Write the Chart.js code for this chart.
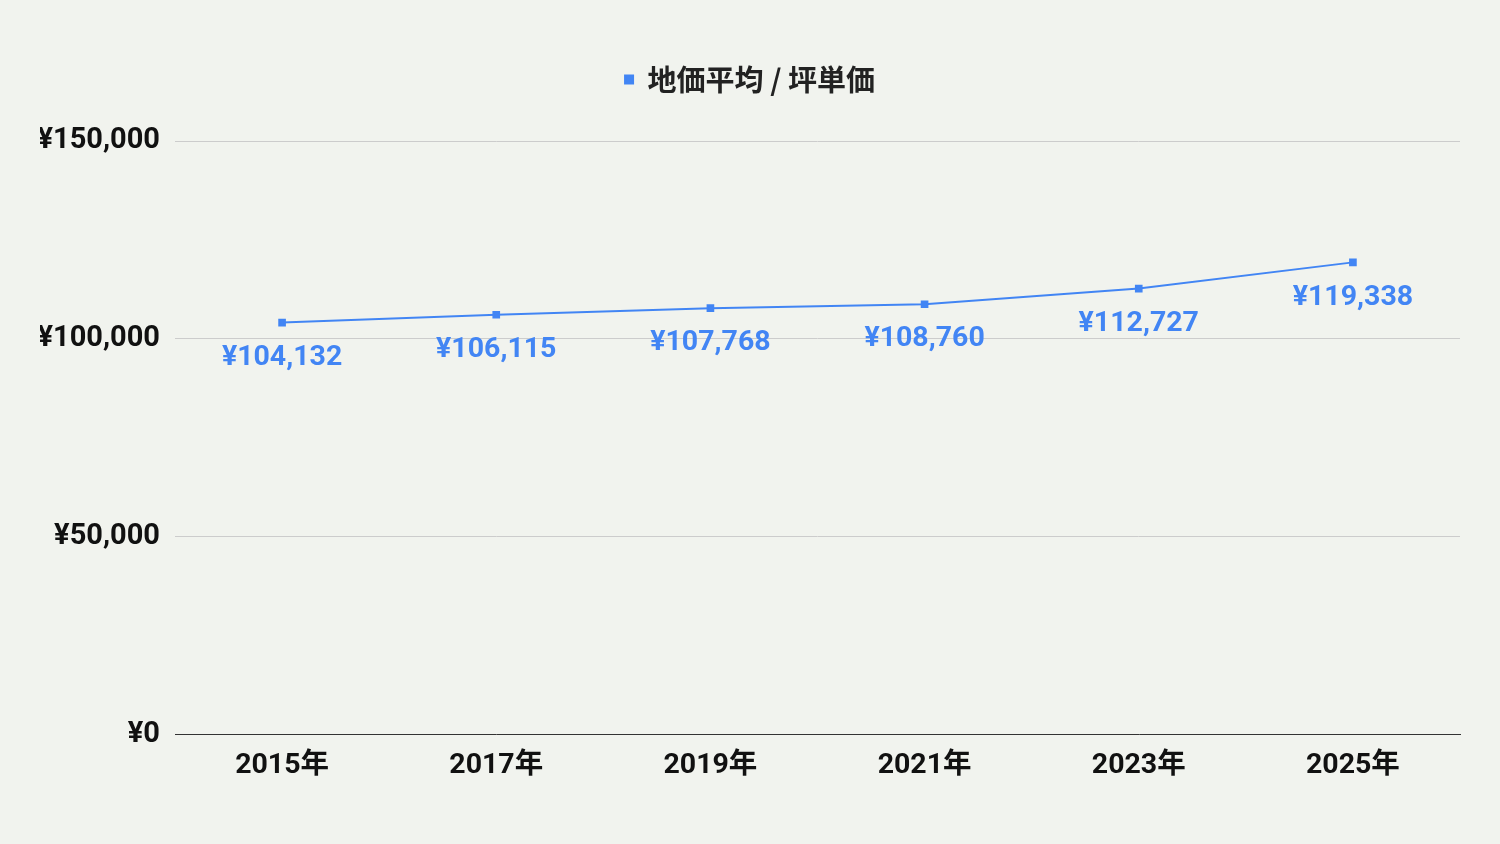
<!DOCTYPE html>
<html>
<head>
<meta charset="utf-8">
<script src="https://cdn.jsdelivr.net/npm/chart.js@4"></script>
<style>
  html, body { margin: 0; padding: 0; background: #f1f3ee; }
  #wrap { width: 1500px; height: 844px; }
</style>
</head>
<body>
<div id="wrap"><canvas id="chart"></canvas></div>
<script>
const years = ['2015年', '2017年', '2019年', '2021年', '2023年', '2025年'];
const prices = [104132, 106115, 107768, 108760, 112727, 119338];
const seriesName = '地価平均 / 坪単価';
const yTicks = [0, 50000, 100000, 150000];

const blue = '#4285f4';
const fontFamily = "Roboto, 'Noto Sans CJK JP', sans-serif";

const yen = v => '¥' + v.toLocaleString('en-US');

// value labels under each point
const pointLabels = {
  id: 'pointLabels',
  afterDatasetsDraw(chart) {
    const ctx = chart.ctx;
    const meta = chart.getDatasetMeta(0);
    ctx.save();
    ctx.font = "bold 28.5px " + fontFamily;
    ctx.fillStyle = blue;
    ctx.textAlign = 'center';
    ctx.textBaseline = 'middle';
    meta.data.forEach((pt, i) => {
      ctx.fillText(yen(prices[i]), pt.x, pt.y + 35);
    });
    ctx.restore();
  }
};

// extra room between legend and plot
const legendGap = {
  id: 'legendGap',
  afterInit(chart) {
    const fit = chart.legend.fit;
    chart.legend.fit = function () {
      fit.call(this);
      this.height += 37;
    };
  }
};

new Chart(document.getElementById('chart'), {
  type: 'line',
  data: {
    labels: years,
    datasets: [{
      label: seriesName,
      data: prices,
      borderColor: blue,
      backgroundColor: blue,
      borderWidth: 2,
      pointStyle: 'rect',
      pointRadius: 4,
      pointHoverRadius: 4,
      tension: 0
    }]
  },
  options: {
    responsive: true,
    maintainAspectRatio: false,
    animation: false,
    layout: { padding: { left: 40, right: 40, top: 41, bottom: 47 } },
    plugins: {
      legend: {
        display: true,
        position: 'top',
        labels: {
          usePointStyle: true,
          pointStyle: 'rect',
          boxWidth: 8,
          boxHeight: 8,
          color: '#222',
          padding: 24,
          font: { family: "'Noto Sans CJK JP', sans-serif", size: 29, weight: 'bold' }
        }
      },
      tooltip: { enabled: false }
    },
    scales: {
      x: {
        offset: true,
        grid: { display: false, drawTicks: false },
        border: { display: true, color: '#333', width: 1 },
        ticks: {
          color: '#111',
          padding: 14,
          font: { family: fontFamily, size: 28.5, weight: 'bold' }
        }
      },
      y: {
        min: 0,
        max: 150000,
        afterBuildTicks: axis => { axis.ticks = yTicks.map(v => ({ value: v })); },
        afterFit: axis => { axis.width = 135; },
        grid: { color: '#cccccc', lineWidth: 1, drawTicks: false },
        border: { display: false },
        ticks: {
          color: '#111',
          padding: 15,
          font: { family: fontFamily, size: 29, weight: 'bold' },
          callback: v => yen(v)
        }
      }
    }
  },
  plugins: [pointLabels, legendGap]
});
</script>
</body>
</html>
